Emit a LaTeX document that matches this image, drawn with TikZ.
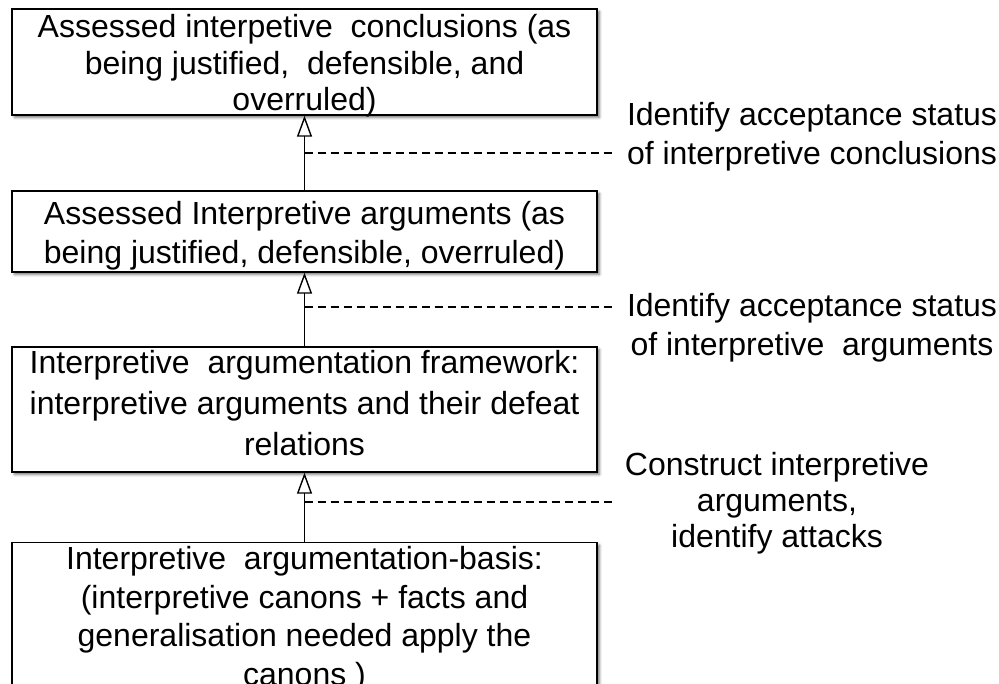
\documentclass[tikz,border=0pt]{standalone}
\usepackage{fontspec}
\setmainfont{Liberation Sans}
\usetikzlibrary{arrows.meta,shadows.blur}
% invisible rules that push a line of box text up or down
\newcommand\padtop[1]{\rule{0pt}{#1}}
\newcommand\padbot[1]{\rule[-#1]{0pt}{#1}}
\begin{document}
\begin{tikzpicture}[x=1pt,y=-1pt,
  stage/.style={draw=black, line width=1.4pt, fill=white,
    minimum width=585pt, align=center, inner xsep=0pt, inner ysep=2pt,
    font=\fontsize{32}{39}\selectfont,
    blur shadow={shadow xshift=2.5pt, shadow yshift=-2.5pt,
      shadow blur radius=2.5pt, shadow opacity=55}},
  step label/.style={align=center, inner sep=0pt,
    font=\fontsize{32}{39}\selectfont},
  lift/.style={line width=1.4pt,
    -{Triangle[open, length=21pt, width=15pt, line width=1.4pt]}},
  process/.style={line width=1.4pt, dash pattern=on 8pt off 5pt}
]
\useasboundingbox (0,0) rectangle (999,684);

% the four stages, bottom one running off the page
\node[stage, minimum height=106pt, inner ysep=-3pt,
      font=\fontsize{32}{36.5}\selectfont] (concl) at (304.5,62)
  {\padtop{31pt}Assessed interpetive~ conclusions (as\\being justified,~ defensible, and\\overruled)};
\node[stage, minimum height=81pt] (assessed) at (304.5,231.5)
  {\padtop{31pt}Assessed Interpretive arguments (as\\being justified, defensible, overruled)};
\node[stage, minimum height=125pt, font=\fontsize{32}{41}\selectfont] (frame) at (304.5,409.5)
  {Interpretive~ argumentation framework:\\interpretive arguments and their defeat\\relations\padbot{14pt}};
\node[stage, anchor=north, inner ysep=4pt, font=\fontsize{32}{38.5}\selectfont] (basis) at (304.5,542)
  {Interpretive~ argumentation-basis:\\(interpretive canons + facts and\\generalisation needed apply the\\canons )};

% derivation arrows
\draw[lift] (basis.north) -- (frame.south);
\draw[lift] (frame.north) -- (assessed.south);
\draw[lift] (assessed.north) -- (concl.south);

% processes attached to each arrow
\node[step label] (p1) at (812,136.5)
  {Identify acceptance status\\of interpretive conclusions};
\node[step label] (p2) at (812,328)
  {Identify acceptance status\\of interpretive~ arguments};
\node[step label, font=\fontsize{32}{36}\selectfont] (p3) at (777,503)
  {Construct interpretive\\arguments,\\identify attacks};

\coordinate (a1) at (304.5,153);
\coordinate (e1) at (613,153);
\coordinate (a2) at (304.5,307);
\coordinate (e2) at (613,307);
\coordinate (a3) at (304.5,502);
\coordinate (e3) at (613,502);
\draw[process] (a1) -- (e1);
\draw[process] (a2) -- (e2);
\draw[process] (a3) -- (e3);
\end{tikzpicture}
\end{document}
